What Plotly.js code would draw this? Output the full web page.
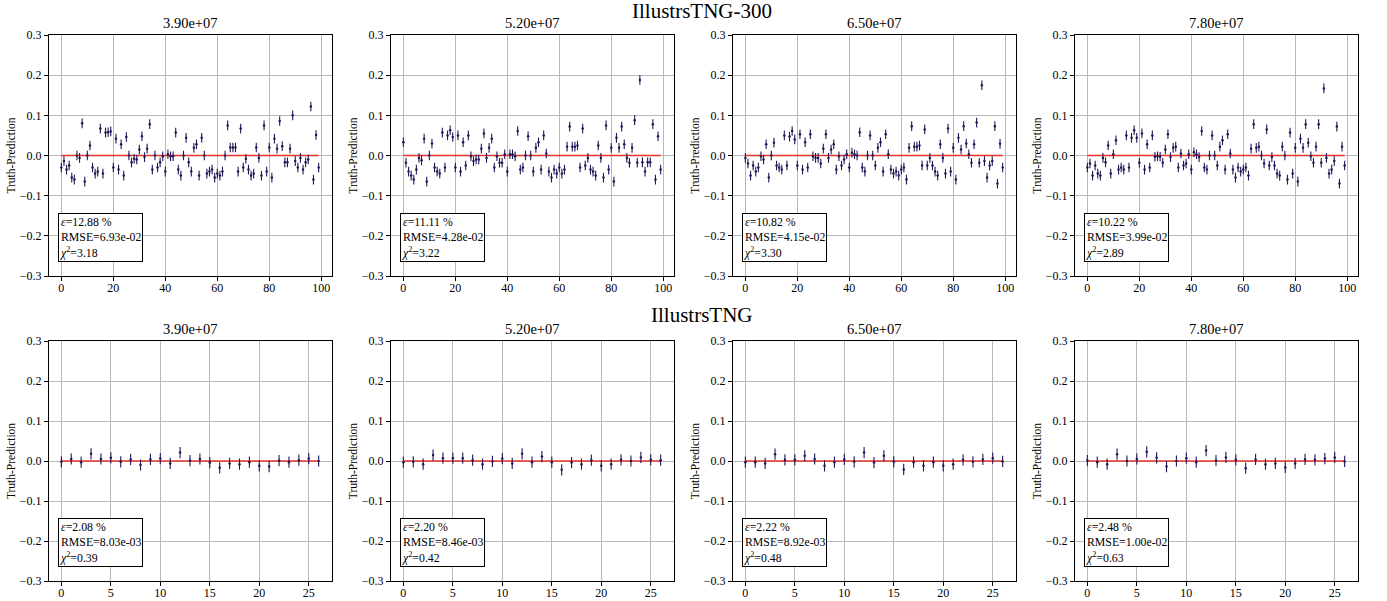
<!DOCTYPE html>
<html><head><meta charset="utf-8">
<script src="https://cdn.plot.ly/plotly-3.0.1.min.js"></script>
<style>html,body{margin:0;padding:0;background:#fff}#chart{width:1387px;height:601px}</style>
</head><body><div id="chart"></div>
<script>
const panelTitles = ['3.90e+07', '5.20e+07', '6.50e+07', '7.80e+07'];
const rowTitles = ['IllustrsTNG-300', 'IllustrsTNG'];

const tng300_390 = [-0.03,-0.014,-0.035,-0.025,-0.055,-0.06,0.0,-0.006,0.08,-0.065,
 0.0,0.025,-0.03,-0.045,-0.04,0.067,-0.045,0.057,0.058,0.06,
 -0.03,0.042,-0.035,0.028,-0.05,0.046,0.0,-0.017,-0.008,-0.01,
 0.015,0.048,-0.004,0.017,0.078,-0.035,0.0,-0.03,-0.017,-0.002,
 -0.04,0.003,-0.002,-0.002,0.057,-0.035,-0.05,0.0,0.044,-0.017,
 -0.04,0.019,0.028,-0.05,0.044,0.0,-0.045,-0.04,-0.035,-0.055,
 -0.045,-0.05,-0.04,0.0,0.075,0.02,0.02,0.02,-0.04,0.067,
 -0.03,-0.008,-0.035,-0.05,-0.045,0.02,-0.006,-0.05,0.075,-0.04,
 0.02,-0.055,0.042,0.017,0.086,0.023,-0.017,-0.017,0.017,0.1,
 -0.014,-0.03,-0.006,-0.035,-0.017,-0.01,0.122,-0.06,0.051,-0.03];
const tng300_520 = [0.033,-0.018,-0.04,-0.05,-0.06,-0.035,-0.006,-0.012,0.042,-0.065,
 0.0,0.03,-0.03,-0.04,-0.045,0.057,-0.03,0.05,0.063,0.046,
 -0.03,0.05,-0.04,0.033,-0.025,0.05,-0.002,-0.014,-0.01,-0.01,
 0.017,0.055,-0.006,0.019,0.042,-0.03,-0.002,-0.018,-0.018,0.003,
 -0.04,0.003,0.003,-0.002,0.061,-0.035,-0.03,0.0,0.048,0.0,
 -0.04,0.019,0.033,-0.035,0.05,0.005,-0.04,-0.055,-0.035,-0.045,
 -0.03,-0.045,-0.035,0.022,0.072,0.022,0.022,0.025,-0.03,0.067,
 -0.025,-0.006,-0.035,-0.04,-0.05,0.025,-0.006,-0.055,0.075,-0.035,
 0.019,-0.065,0.044,0.019,0.072,0.028,-0.006,-0.018,0.019,0.088,
 -0.018,0.188,-0.017,-0.04,-0.017,-0.017,0.078,-0.06,0.048,-0.035];
const tng300_650 = [-0.006,-0.02,-0.05,-0.025,-0.04,-0.03,-0.002,-0.01,0.028,-0.055,
 0.0,0.032,-0.025,-0.03,-0.035,0.05,-0.025,0.047,0.061,0.04,
 -0.025,0.053,-0.035,0.033,-0.03,0.053,-0.002,-0.006,-0.006,-0.02,
 0.017,0.053,-0.006,0.015,0.028,-0.035,-0.002,-0.025,-0.01,0.003,
 -0.03,0.007,0.003,0.0,0.058,-0.03,-0.04,0.0,0.05,0.0,
 -0.025,0.019,0.033,-0.04,0.053,0.003,-0.035,-0.045,-0.04,-0.05,
 -0.035,-0.03,-0.06,0.019,0.073,0.022,0.022,0.025,-0.025,0.065,
 -0.025,-0.006,-0.025,-0.04,-0.05,0.028,-0.006,-0.045,0.067,-0.04,
 0.019,-0.06,0.044,0.015,0.073,0.03,0.003,-0.018,0.028,0.082,
 -0.018,0.175,-0.014,-0.055,-0.025,-0.014,0.073,-0.07,0.029,-0.03];
const tng300_780 = [-0.03,-0.02,-0.05,-0.025,-0.045,-0.05,-0.006,-0.017,0.025,-0.045,
 0.003,0.038,-0.035,-0.03,-0.035,0.05,-0.03,0.044,0.063,0.044,
 -0.018,0.055,-0.035,0.028,-0.03,0.05,-0.003,-0.002,-0.003,-0.018,
 0.015,0.053,-0.004,0.019,0.022,-0.03,0.005,-0.025,-0.02,0.003,
 -0.035,0.008,0.003,-0.004,0.061,-0.03,-0.035,0.0,0.05,0.0,
 -0.025,0.022,0.038,-0.035,0.053,0.005,-0.035,-0.055,-0.03,-0.04,
 -0.035,-0.03,-0.05,0.017,0.078,0.019,0.022,0.0,-0.02,0.065,
 -0.025,-0.004,-0.025,-0.045,-0.05,0.022,0.0,-0.06,0.057,-0.045,
 0.019,-0.065,0.042,0.019,0.078,0.032,-0.002,-0.018,0.022,0.078,
 -0.018,0.167,-0.006,-0.045,-0.035,-0.014,0.072,-0.07,0.022,-0.025];

const tng_390 = [-0.002,0.005,-0.003,0.018,0.005,0.008,-0.002,0.004,-0.01,0.004,
 0.006,-0.006,0.021,0.001,0.005,-0.004,-0.017,-0.006,-0.008,-0.003,
 -0.012,-0.014,0.001,-0.003,0.002,0.006,0.0];
const tng_520 = [-0.003,-0.002,-0.008,0.015,0.007,0.007,0.007,0.002,-0.008,-0.001,
 0.006,-0.006,0.018,-0.003,0.011,-0.003,-0.022,-0.004,-0.008,0.002,
 -0.012,-0.008,0.003,0.0,0.009,0.003,0.002];
const tng_650 = [-0.003,-0.003,-0.006,0.017,0.003,0.003,0.013,0.005,-0.012,-0.003,
 0.004,-0.002,0.021,-0.004,0.013,-0.002,-0.021,-0.003,-0.012,-0.003,
 -0.012,-0.008,0.003,-0.002,0.004,0.007,-0.001];
const tng_780 = [0.001,-0.003,-0.008,0.017,0.0,0.005,0.023,0.008,-0.014,0.0,
 0.007,-0.003,0.026,0.001,0.009,0.003,-0.018,0.004,-0.008,-0.006,
 -0.016,-0.006,0.004,0.003,0.006,0.009,-0.001];

const epsTexts = ['12.88', '11.11', '10.82', '10.22', '2.08', '2.20', '2.22', '2.48'];
const rmseTexts = ['6.93e-02', '4.28e-02', '4.15e-02', '3.99e-02', '8.03e-03', '8.46e-03', '8.92e-03', '1.00e-02'];
const chiTexts = ['3.18', '3.22', '3.30', '2.89', '0.39', '0.42', '0.48', '0.63'];
const errTop = 0.012;
const errBottom = 0.014;

const series = [tng300_390, tng300_520, tng300_650, tng300_780, tng_390, tng_520, tng_650, tng_780];

const W = 1387, H = 601;
const FONT = 'Liberation Serif, Times New Roman, serif';
const leftPx = [48.5, 390.5, 732.5, 1074.5];
const panelW = 283;
const rowPx = [[35, 276], [341, 581]];
const ptColor = '#221657';

const traces = [];
const layout = {
  width: W, height: H,
  margin: {l: 0, r: 0, t: 0, b: 0},
  paper_bgcolor: '#ffffff', plot_bgcolor: '#ffffff',
  showlegend: false,
  font: {family: FONT, size: 12, color: '#000'},
  title: {text: rowTitles[0], x: 702 / W, xanchor: 'center', y: 1 - 11 / H, yanchor: 'middle', yref: 'container', font: {family: FONT, size: 21, color: '#000'}},
  annotations: []
};

series.forEach((vals, k) => {
  const col = k % 4, row = Math.floor(k / 4);
  const n = vals.length;
  const xs = vals.map((_, i) => i);
  const sfx = k === 0 ? '' : String(k + 1);
  const xa = 'x' + sfx, ya = 'y' + sfx;
  traces.push({x: [0, n - 1], y: [0, 0], xaxis: xa, yaxis: ya, mode: 'lines', line: {color: '#e8302a', width: 1.5}, hoverinfo: 'skip'});
  traces.push({x: xs, y: vals, xaxis: xa, yaxis: ya, mode: 'markers', type: 'scatter',
    marker: {color: ptColor, size: 2.5},
    error_y: {type: 'constant', value: row === 0 ? errTop : errBottom, visible: true, color: ptColor, thickness: 1.1, width: 0}});
  const x0 = leftPx[col] / W, x1 = (leftPx[col] + panelW) / W;
  const y0 = (H - rowPx[row][1]) / H, y1 = (H - rowPx[row][0]) / H;
  const pad = row === 0 ? 4.95 : 1.3;
  layout['xaxis' + sfx] = {
    domain: [x0, x1], anchor: ya, range: [-pad, n - 1 + pad],
    dtick: row === 0 ? 20 : 5, tick0: 0,
    showgrid: true, gridcolor: '#b8b8b8', gridwidth: 1, zeroline: false,
    showline: true, linecolor: '#000', linewidth: 1, mirror: true,
    ticks: 'outside', ticklen: 3.5, tickcolor: '#000', ticklabelstandoff: -3,
    tickfont: {family: FONT, size: 12, color: '#000'}
  };
  layout['yaxis' + sfx] = {
    domain: [y0, y1], anchor: xa, range: [-0.3, 0.3], dtick: 0.1, tick0: 0, tickformat: '.1f',
    showgrid: true, gridcolor: '#b8b8b8', gridwidth: 1, zeroline: false,
    showline: true, linecolor: '#000', linewidth: 1, mirror: true,
    ticks: 'outside', ticklen: 3.5, tickcolor: '#000', tickfont: {family: FONT, size: 12, color: '#000'},
    title: {text: 'Truth-Prediction', font: {family: FONT, size: 11.5, color: '#000'}, standoff: 1}
  };
  layout.annotations.push({xref: 'paper', yref: 'paper', x: (x0 + x1) / 2, y: y1, yanchor: 'bottom', xanchor: 'center', yshift: 2,
    text: panelTitles[col], showarrow: false, font: {family: FONT, size: 14.5, color: '#000'}});
  layout.annotations.push({xref: xa + ' domain', yref: ya + ' domain', x: 0.034, y: 0.058, xanchor: 'left', yanchor: 'bottom',
    align: 'left', showarrow: false, bgcolor: '#ffffff', bordercolor: '#000', borderwidth: 1, borderpad: 1,
    text: '<i>ε</i>=' + epsTexts[k] + ' %<br>RMSE=' + rmseTexts[k] + '<br><i>χ</i><sup>2</sup>=' + chiTexts[k],
    font: {family: FONT, size: 11.8, color: '#000'}});
});
layout.annotations.push({xref: 'paper', yref: 'paper', x: 702 / W, y: 1 - 315 / H, xanchor: 'center', yanchor: 'middle',
  text: rowTitles[1], showarrow: false, font: {family: FONT, size: 21, color: '#000'}});

Plotly.newPlot('chart', traces, layout, {displayModeBar: false, staticPlot: true});
</script></body></html>
